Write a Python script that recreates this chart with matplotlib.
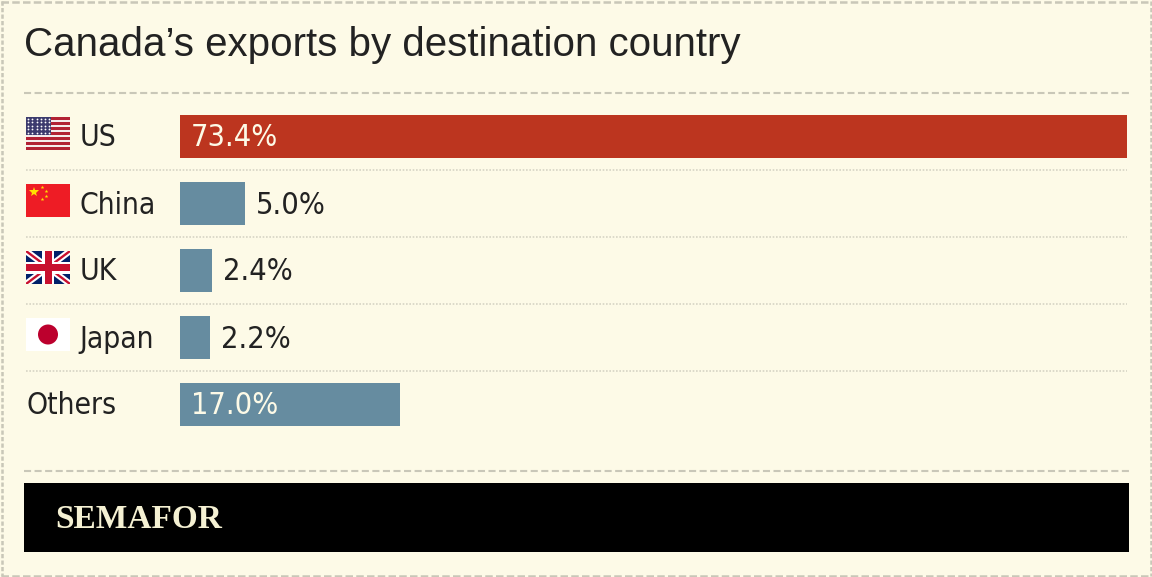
import matplotlib
matplotlib.use('Agg')
import matplotlib.pyplot as plt
from matplotlib.patches import Rectangle, Circle

# values
countries = ['US', 'China', 'UK', 'Japan', 'Others']
value_labels = ['73.4%', '5.0%', '2.4%', '2.2%', '17.0%']
# bar lengths as measured, the small bars are drawn a bit longer than their labels
bar_lengths = [73.4, 5.04, 2.5, 2.33, 17.05]
title = 'Canada\u2019s exports by destination country'
brand = 'SEMAFOR'

BG = '#FDFAE7'
RED = '#BC351F'
BLUE = '#668CA0'
INK = '#222222'
GREY = '#C9C7B8'
LABEL_STYLE = dict(family='DejaVu Sans', stretch='condensed', va='center')

W, H = 1152, 577
fig = plt.figure(figsize=(W / 100, H / 100), dpi=100, facecolor=BG)

# overlay in pixel coordinates for frame, rules, flags
deco = fig.add_axes([0, 0, 1, 1])
deco.set_xlim(0, W)
deco.set_ylim(H, 0)
deco.axis('off')

# bars: one unit of y is one row
ax = fig.add_axes([180 / W, 1 - 438 / H, 947 / W, 335 / H])
ax.patch.set_alpha(0)
ax.set_xlim(0, max(bar_lengths))
ax.set_ylim(len(countries) - 0.5, -0.5)
ax.axis('off')

colors = [RED if c == 'US' else BLUE for c in countries]
ax.barh(range(len(countries)), bar_lengths, height=43 / 67, color=colors)

for i, v in enumerate(bar_lengths):
    # long bars carry the label inside
    if v > 10:
        ax.annotate(value_labels[i], (0, i), xytext=(11, -1.5), textcoords='offset pixels',
                    color=BG, fontsize=22, **LABEL_STYLE)
    else:
        ax.annotate(value_labels[i], (v, i), xytext=(11, -1.5), textcoords='offset pixels',
                    color=INK, fontsize=22, **LABEL_STYLE)

# outer frame, the sides have a shorter dash
deco.plot([1, W - 1], [1.5, 1.5], color=GREY, lw=1.8, ls=(0, (3, 1.3)))
deco.plot([1, W - 1], [H - 1.5, H - 1.5], color=GREY, lw=1.8, ls=(0, (3, 1.3)))
deco.plot([1.5, 1.5], [1, H - 1], color=GREY, lw=1.8, ls=(0, (1.7, 0.9)))
deco.plot([W - 1.5, W - 1.5], [1, H - 1], color=GREY, lw=1.8, ls=(0, (1.7, 0.9)))

deco.text(24, 45, title, fontsize=29, color=INK, va='center', family=['Liberation Sans', 'DejaVu Sans'])

# rules
for y in (93, 471):
    deco.plot([24, 1129], [y, y], color=GREY, lw=1.5, ls=(0, (3.4, 1.667)))
for i in range(len(countries) - 1):
    y = 170 + 67 * i
    deco.plot([26, 1127], [y, y], color='#D6D4C5', lw=1.2, ls=(0, (1, 1)))

# country names
for i, c in enumerate(countries):
    x = 27 if c == 'Others' else 79.5
    deco.text(x, 138 + 67 * i, c, color=INK, fontsize=21.5, **LABEL_STYLE)


def us_flag(x, y, w=44, h=33):
    deco.add_patch(Rectangle((x, y), w, h, fc='#F4ECEC', ec='none'))
    for s in range(0, 13, 2):
        deco.add_patch(Rectangle((x, y + s * h / 13), w, h / 13, fc='#B22234', ec='none'))
    deco.add_patch(Rectangle((x, y), w * 0.57, h * 7 / 13, fc='#3C3B6E', ec='none'))
    for r in range(5):
        for k in range(6):
            deco.plot(x + 2.2 + k * 4.2, y + 2 + r * 3.4, '.', color='white', ms=2.6, mew=0)


def china_flag(x, y, w=44, h=33):
    deco.add_patch(Rectangle((x, y), w, h, fc='#EE1C25', ec='none'))
    deco.plot(x + 8, y + 8, '*', color='#FFE000', ms=7, mew=0)
    for dx, dy in ((16, 3), (20, 7), (20, 12), (16, 15)):
        deco.plot(x + dx, y + dy, '*', color='#FFE000', ms=2.8, mew=0)


def uk_flag(x, y, w=44, h=33):
    bg = deco.add_patch(Rectangle((x, y), w, h, fc='#012169', ec='none'))
    for a, b in (((x, y), (x + w, y + h)), ((x, y + h), (x + w, y))):
        ln, = deco.plot([a[0], b[0]], [a[1], b[1]], color='white', lw=4.6, solid_capstyle='butt')
        ln.set_clip_path(bg)
        ln, = deco.plot([a[0], b[0]], [a[1], b[1]], color='#C8102E', lw=1.7, solid_capstyle='butt')
        ln.set_clip_path(bg)
    deco.add_patch(Rectangle((x + w / 2 - 6, y), 12, h, fc='white', ec='none', zorder=3))
    deco.add_patch(Rectangle((x, y + h / 2 - 6), w, 12, fc='white', ec='none', zorder=3))
    deco.add_patch(Rectangle((x + w / 2 - 3.5, y), 7, h, fc='#C8102E', ec='none', zorder=4))
    deco.add_patch(Rectangle((x, y + h / 2 - 3.5), w, 7, fc='#C8102E', ec='none', zorder=4))


def japan_flag(x, y, w=44, h=33):
    deco.add_patch(Rectangle((x, y), w, h, fc='white', ec='none'))
    deco.add_patch(Circle((x + w / 2, y + h / 2), 10, fc='#BC002D', ec='none'))


us_flag(26, 117)
china_flag(26, 184)
uk_flag(26, 251)
japan_flag(26, 318)

# footer band
deco.add_patch(Rectangle((24, 483), 1105, 69, fc='black', ec='none'))
deco.text(55, 520, brand, fontsize=24, color='#F5F1D3', fontweight='bold', va='center',
          family=['Liberation Serif', 'DejaVu Serif'])

fig.savefig('out.png', dpi=100, facecolor=BG)
